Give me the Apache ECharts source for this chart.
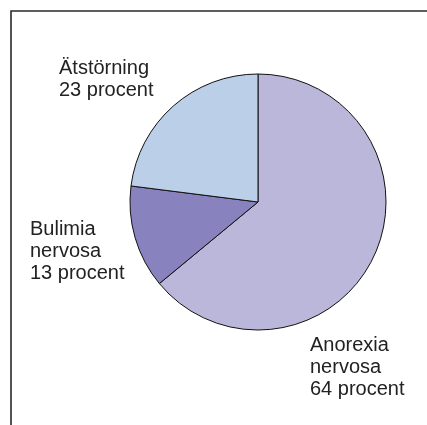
<!DOCTYPE html>
<html>
<head>
<meta charset="utf-8">
<script src="https://cdn.jsdelivr.net/npm/echarts@6/dist/echarts.min.js"></script>
<style>
html,body{margin:0;padding:0;background:#fff;}
#chart{width:427px;height:425px;}
</style>
</head>
<body>
<div id="chart"></div>
<script>
const categories = ['Anorexia\nnervosa', 'Bulimia\nnervosa', 'Ätstörning'];
const values = [64, 13, 23];
const colors = ['#bbb7da', '#8882bf', '#bbcfe9'];

const labelPos = [
  {x: 310, y: 334},
  {x: 30, y: 218},
  {x: 59, y: 57}
];

const chart = echarts.init(document.getElementById('chart'), null, {renderer: 'canvas'});
chart.setOption({
  animation: false,
  backgroundColor: '#ffffff',
  graphic: [{
    type: 'polyline',
    shape: {points: [[11, 425], [11, 11], [427, 11]]},
    style: {stroke: '#2a2a2a', lineWidth: 1.6, fill: null}
  }],
  series: [{
    type: 'pie',
    center: [258, 202],
    radius: 128,
    startAngle: 90,
    clockwise: true,
    avoidLabelOverlap: false,
    data: categories.map((c, i) => ({name: c, value: values[i], itemStyle: {color: colors[i]}})),
    itemStyle: {borderColor: '#111111', borderWidth: 1},
    label: {
      show: true,
      position: 'outside',
      overflow: 'none',
      formatter: p => p.name + '\n' + p.value + ' procent',
      fontFamily: 'Liberation Sans, Arial, sans-serif',
      fontSize: 20,
      lineHeight: 22,
      color: '#222222',
      align: 'left'
    },
    labelLine: {show: false},
    labelLayout: function (params) {
      const p = labelPos[params.dataIndex];
      return {x: p.x, y: p.y, align: 'left', verticalAlign: 'top', hideOverlap: false};
    },
    emphasis: {disabled: true}
  }]
});
</script>
</body>
</html>
